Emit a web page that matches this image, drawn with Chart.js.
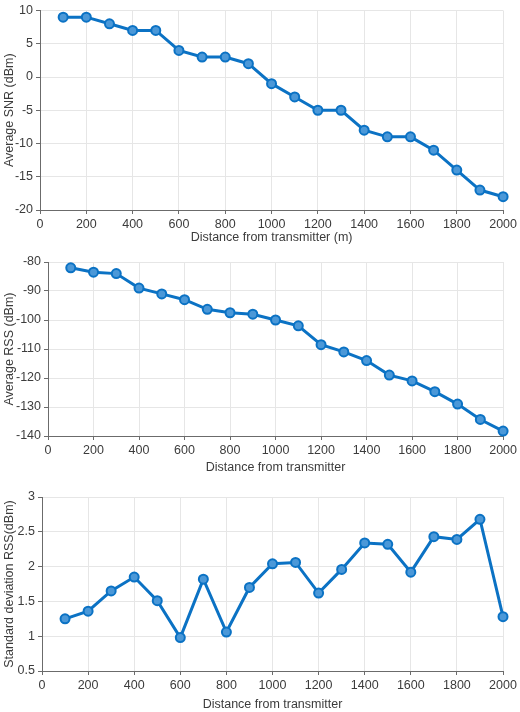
<!DOCTYPE html>
<html>
<head>
<meta charset="utf-8">
<script src="https://cdn.jsdelivr.net/npm/chart.js@4"></script>
<style>
  body { margin: 0; background: #fff; width: 520px; height: 712px; position: relative; overflow: hidden; }
  .box { position: absolute; left: 0; width: 520px; }
</style>
</head>
<body>
<div class="box" style="top:0px;height:245px"><canvas id="snrChart"></canvas></div>
<div class="box" style="top:250px;height:225px"><canvas id="rssChart"></canvas></div>
<div class="box" style="top:480px;height:232px"><canvas id="stdChart"></canvas></div>
<script>
'use strict'

let distances = [100, 200, 300, 400, 500, 600, 700, 800, 900, 1000, 1100, 1200, 1300, 1400, 1500, 1600, 1700, 1800, 1900, 2000]
let snrValues = [9, 9, 8, 7, 7, 4, 3, 3, 2, -1, -3, -5, -5, -8, -9, -9, -11, -14, -17, -18]
let rssValues = [-82, -83.5, -84, -89, -91, -93, -96.3, -97.5, -98, -100, -102, -108.5, -111, -114, -119, -121, -124.7, -129, -134.3, -138.3]
let stdValues = [1.25, 1.36, 1.65, 1.85, 1.51, 0.98, 1.82, 1.06, 1.70, 2.04, 2.06, 1.62, 1.96, 2.34, 2.32, 1.92, 2.43, 2.39, 2.68, 1.28]

let xTicks = [0, 200, 400, 600, 800, 1000, 1200, 1400, 1600, 1800, 2000]
let snrTicks = [10, 5, 0, -5, -10, -15, -20]
let rssTicks = [-80, -90, -100, -110, -120, -130, -140]
let stdTicks = [3, 2.5, 2, 1.5, 1, 0.5]

let lineColor = '#0b72c4'
let gridColor = '#e6e6e6'
let axisColor = '#6b6b6b'
let textColor = '#3c3c3c'
Chart.defaults.font.family = "'Liberation Sans', Arial, sans-serif"
Chart.defaults.animation = false

function makeChart(id, yValues, yTicks, yTitle, xTitle, box) {
    let ctx = document.getElementById(id)
    let points = distances.map((d, i) => ({ x: d, y: yValues[i] }))
    return new Chart(ctx, {
        type: 'line',
        data: {
            datasets: [{
                data: points,
                borderColor: lineColor,
                backgroundColor: '#3d8fd3',
                borderWidth: 3,
                pointRadius: 4.5,
                pointBorderWidth: 2,
                pointBorderColor: lineColor,
                pointBackgroundColor: '#4b98d8',
                tension: 0,
                clip: false
            }]
        },
        options: {
            responsive: true,
            maintainAspectRatio: false,
            layout: { padding: { top: box.top, right: box.right, left: 0, bottom: 0 } },
            plugins: { legend: { display: false }, tooltip: { enabled: false } },
            scales: {
                x: {
                    type: 'linear',
                    min: 0,
                    max: 2000,
                    afterBuildTicks: (s) => { s.ticks = xTicks.map(v => ({ value: v })) },
                    afterFit: (s) => { s.height = box.xh },
                    grid: { color: gridColor, tickLength: 4, tickColor: axisColor },
                    border: { color: axisColor, width: 1 },
                    ticks: { color: textColor, font: { size: 12.5 }, maxRotation: 0, padding: 3, callback: (v) => String(v) },
                    title: { display: true, text: xTitle, color: textColor, font: { size: 12.5 }, padding: { top: 3, bottom: 0 } }
                },
                y: {
                    min: yTicks[yTicks.length - 1],
                    max: yTicks[0],
                    afterBuildTicks: (s) => { s.ticks = yTicks.map(v => ({ value: v })) },
                    afterFit: (s) => { s.width = box.left },
                    grid: { color: gridColor, tickLength: 4, tickColor: axisColor },
                    border: { color: axisColor, width: 1 },
                    ticks: { color: textColor, font: { size: 12.5 }, padding: 3, callback: (v) => String(v) },
                    title: { display: true, text: yTitle, color: textColor, font: { size: 12.5 }, padding: { top: 2, bottom: 0 } }
                }
            }
        }
    })
}

makeChart('snrChart', snrValues, snrTicks, 'Average SNR (dBm)', 'Distance from transmitter (m)',
    { top: 9, right: 13, left: 40, xh: 35 })
makeChart('rssChart', rssValues, rssTicks, 'Average RSS (dBm)', 'Distance from transmitter',
    { top: 12, right: 15, left: 48, xh: 39 })
makeChart('stdChart', stdValues, stdTicks, 'Standard deviation RSS(dBm)', 'Distance from transmitter',
    { top: 17, right: 17, left: 42, xh: 41 })
</script>
</body>
</html>
